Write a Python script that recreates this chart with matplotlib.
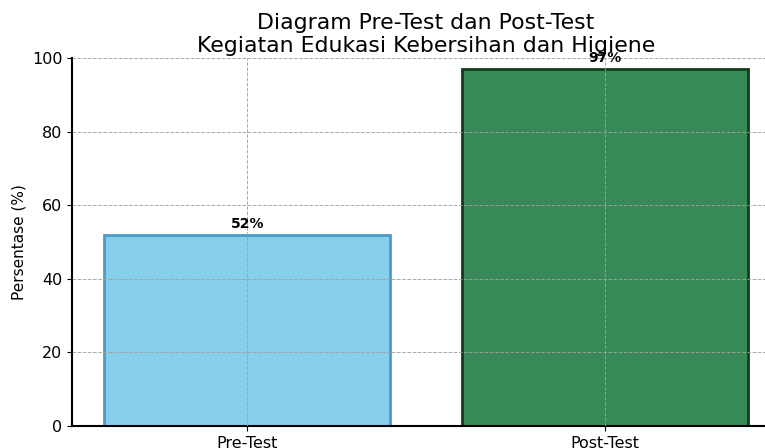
#!/usr/bin/env python3
import matplotlib
matplotlib.use("Agg")
import matplotlib.pyplot as plt

categories = ['Pre-Test', 'Post-Test']
values = [52, 97]
fill_colors = ['#87CEEB', '#378A57']
edge_colors = ['#4A9CC4', '#0F3D1C']


def main():
    fig = plt.figure(figsize=(7.65, 4.48), dpi=100)
    # axes runs a bit past the right edge, like the cropped original
    ax = fig.add_axes([72 / 765, 22 / 448, 708 / 765, 368 / 448])

    bars = ax.bar(categories, values, width=0.8, color=fill_colors,
                  edgecolor=edge_colors, linewidth=2)

    for b, v in zip(bars, values):
        ax.text(b.get_x() + b.get_width() / 2, v + 1, "{}%".format(v),
                ha='center', va='bottom', fontsize=10, fontweight='bold')

    ax.set_ylim(0, 100)
    ax.set_ylabel("Persentase (%)", fontsize=11)
    ax.set_title("Diagram Pre-Test dan Post-Test\nKegiatan Edukasi Kebersihan dan Higiene",
                 fontsize=15.8, pad=4.5)
    ax.tick_params(axis='both', labelsize=11.5)
    ax.spines['top'].set_visible(False)
    ax.spines['right'].set_visible(False)
    ax.spines['left'].set_linewidth(1.5)
    ax.spines['bottom'].set_linewidth(1.5)
    ax.set_axisbelow(False)
    ax.grid(True, linestyle='--', color='#a0a0a0', linewidth=0.7, alpha=0.9)

    fig.savefig("out.png", dpi=100)


if __name__ == "__main__":
    main()
